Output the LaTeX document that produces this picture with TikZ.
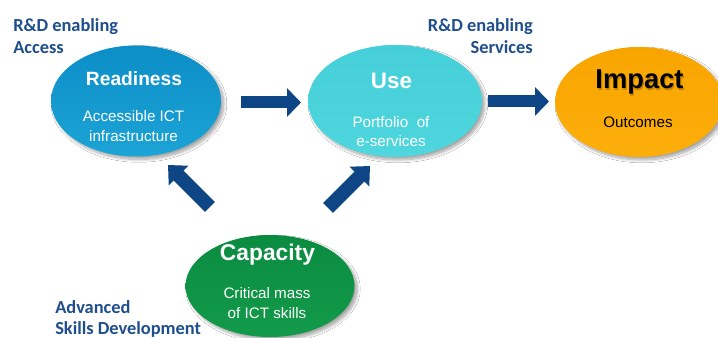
\documentclass[tikz,border=0pt]{standalone}
\usepackage{fontspec}
\setmainfont{Liberation Sans}
\newfontfamily\labfont{Carlito}
\usetikzlibrary{shapes.geometric,arrows.meta,shadows.blur}
\definecolor{labblue}{HTML}{1F4E8C}
\definecolor{arrblue}{HTML}{0E4585}
\definecolor{readtop}{HTML}{0C8EC7}
\definecolor{readbot}{HTML}{1CA4D6}
\definecolor{usetop}{HTML}{45CFD8}
\definecolor{usebot}{HTML}{4FD6DE}
\definecolor{imptop}{HTML}{F9A500}
\definecolor{impbot}{HTML}{FBAE0A}
\definecolor{captop}{HTML}{0A8C40}
\definecolor{capbot}{HTML}{139A4A}
\tikzset{
  blob/.style={ellipse, inner sep=0pt,
    blur shadow={shadow xshift=2.2pt, shadow yshift=-2.2pt, shadow blur steps=10, shadow opacity=35}},
  corner/.style={font=\labfont\bfseries\fontsize{13.8}{16}\selectfont, text=labblue, inner sep=0pt},
  title/.style={font=\bfseries, text=white, inner sep=0pt, anchor=base},
  sub/.style={font=\fontsize{11.4}{13}\selectfont, text=white, inner sep=0pt, anchor=base},
  harrow/.style={draw=arrblue, line width=9pt, -{Triangle[width=21pt,length=10.5pt]}},
  darrow/.style={draw=arrblue, line width=10.5pt, -{Triangle[width=20.25pt,length=11.25pt]}}
}
\begin{document}
\begin{tikzpicture}[x=0.75pt,y=-0.75pt]
\useasboundingbox (0,0) rectangle (718,338);
\clip (0,0) rectangle (718,338);
\fill[white] (0,0) rectangle (718,338);

% ellipses
\node[blob, minimum width=127.5pt, minimum height=83.25pt, top color=readtop, bottom color=readbot] (readiness) at (136,101) {};
\node[blob, minimum width=130.5pt, minimum height=84pt, top color=usetop, bottom color=usebot] (use) at (395,101) {};
\node[blob, minimum width=126pt, minimum height=82.5pt, top color=imptop, bottom color=impbot] (impact) at (639,102) {};
\node[blob, minimum width=126.75pt, minimum height=76.5pt, top color=captop, bottom color=capbot] (capacity) at (270,286) {};

% ellipse texts
\node[title, font=\bfseries\fontsize{14.4}{16}\selectfont] (tread) at (134,86) {Readiness};
\node[sub] (sread1) at (133.5,122) {Accessible ICT};
\node[sub] (sread2) at (133.5,142) {infrastructure};

\node[title, font=\bfseries\fontsize{16.8}{18}\selectfont] (tuse) at (391.5,89) {Use};
\node[sub] (suse1) at (391,128) {Portfolio\ \ of};
\node[sub] (suse2) at (391,147) {e-services};

\node[title, font=\bfseries\fontsize{20.5}{22}\selectfont, text=black!35!imptop, opacity=0.6] (timpshadow) at (640.6,90.4) {Impact};
\node[title, font=\bfseries\fontsize{20.5}{22}\selectfont, text=black] (timp) at (639.5,89) {Impact};
\node[sub, text=black] (simp) at (638,128) {Outcomes};

\node[title, font=\bfseries\fontsize{17.1}{19}\selectfont] (tcap) at (267.5,261) {Capacity};
\node[sub] (scap1) at (267,299) {Critical mass};
\node[sub] (scap2) at (267,319) {of ICT skills};

% corner labels
\node[corner, anchor=base west] (la1) at (13,32) {R\&D enabling};
\node[corner, anchor=base west] (la2) at (13,54) {Access};
\node[corner, anchor=base east] (ls1) at (533,32) {R\&D enabling};
\node[corner, anchor=base east] (ls2) at (533,54) {Services};
\node[corner, anchor=base west] (lk1) at (55,314) {Advanced};
\node[corner, anchor=base west] (lk2) at (55,335) {Skills Development};

% arrows
\coordinate (a1s) at (241,102.5);
\coordinate (a1e) at (301,102.5);
\coordinate (a2s) at (488,101.5);
\coordinate (a2e) at (549,101.5);
\coordinate (a3s) at (210,207);
\coordinate (a3e) at (168,165);
\coordinate (a4s) at (328,208);
\coordinate (a4e) at (370,166);
\draw[harrow] (a1s) -- (a1e);
\draw[harrow] (a2s) -- (a2e);
\draw[darrow] (a3s) -- (a3e);
\draw[darrow] (a4s) -- (a4e);
\end{tikzpicture}
\end{document}
